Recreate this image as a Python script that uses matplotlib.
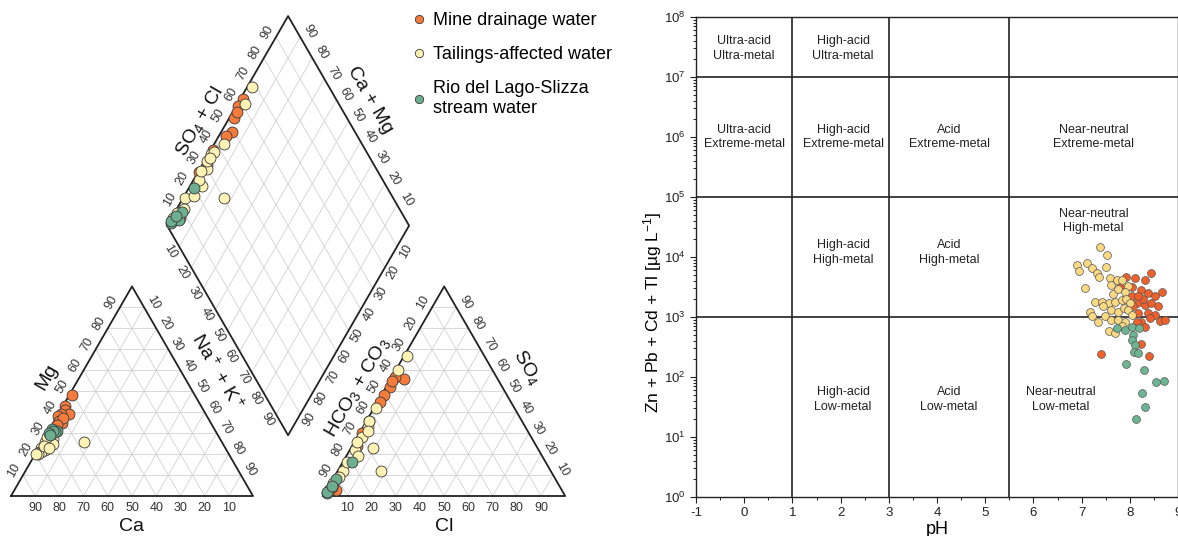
import numpy as np
import matplotlib.pyplot as plt
from matplotlib.lines import Line2D
from matplotlib.ticker import LogLocator, MultipleLocator, NullFormatter

plt.rcParams['font.family'] = ['Liberation Sans', 'DejaVu Sans']
plt.rcParams['mathtext.fontset'] = 'custom'
plt.rcParams['mathtext.rm'] = 'Liberation Sans'
plt.rcParams['mathtext.it'] = 'Liberation Sans:italic'
plt.rcParams['mathtext.default'] = 'regular'
plt.rcParams['axes.unicode_minus'] = False

# ---------------- Piper data (% meq/L) ----------------
mine_mg = [48, 43, 41, 39, 39, 38, 36, 35, 37, 34]
mine_nak = [1, 1, 2, 4.5, 1, 0.5, 2, 3.5, 3, 2]
mine_so4 = [56, 57, 52, 48, 36, 24, 55, 3, 45, 30]
mine_cl = [5.5, 1, 1.5, 1, 1, 2, 1, 4, 1, 1]

tail_mg = [29, 28, 27, 26, 25, 25, 24, 23, 22, 21, 21, 20, 20, 28, 26, 24, 23]
tail_nak = [2, 3, 4, 1, 3, 5, 2, 1, 3, 1, 2, 1, 0.5, 1, 17, 1.5, 4]
tail_so4 = [67, 60, 42, 33, 28, 22, 19, 12, 9, 6, 36, 26, 3, 23, 12, 31, 16]
tail_cl = [1, 1, 1, 2, 2, 2, 5, 2, 2, 1, 1, 1, 1, 9, 18, 3, 2]

rio_mg = [32, 31, 30.5, 31, 30, 29]
rio_nak = [1, 3.5, 3, 2, 0.5, 1.5]
rio_so4 = [1.5, 4.5, 8, 16, 2, 5]
rio_cl = [1, 1.5, 1.5, 4, 0.5, 1]

# ---------------- Ficklin data ----------------
mine_ph = [7.93, 8.11, 8.31, 8.44, 7.80, 8.04, 8.24, 8.38, 8.52, 8.67, 8.14, 8.31,
           8.45, 8.59, 8.18, 8.38, 8.52, 8.24, 8.42, 8.62, 8.72, 8.14, 8.31, 8.24,
           7.40, 8.39, 8.04, 8.28, 8.17, 8.07]
mine_metal = [4700, 4400, 4200, 5400, 3200, 2200, 2800, 2500, 2200, 2600, 1700, 1600,
              1700, 1500, 1150, 1150, 1070, 830, 950, 870, 890, 830, 690, 350,
              245, 220, 3200, 2000, 2200, 1500]

tail_ph = [7.38, 7.52, 6.90, 6.94, 7.11, 7.21, 7.32, 7.37, 7.51, 7.08, 7.59, 7.62,
           7.73, 7.83, 7.96, 7.66, 7.76, 7.90, 7.28, 7.42, 7.56, 7.69, 7.83, 7.93,
           8.00, 7.45, 7.62, 7.76, 7.87, 7.97, 8.04, 7.18, 7.21, 7.35, 7.49, 7.62,
           7.76, 7.90, 7.83, 7.56, 7.69]
tail_metal = [14800, 10700, 7400, 5900, 7800, 6500, 5400, 4600, 6800, 3100, 4400, 3400,
              4200, 4100, 3300, 2400, 2900, 2600, 1800, 1800, 1700, 1800, 1900, 2000,
              1700, 1500, 1300, 1200, 1400, 1300, 1070, 1200, 1020, 830, 1020, 890,
              890, 830, 710, 580, 540]

rio_ph = [7.73, 7.90, 8.04, 8.20, 8.07, 8.04, 8.11, 8.09, 8.16, 7.93, 8.30, 8.55,
          8.71, 8.26, 8.31, 8.13]
rio_metal = [650, 600, 690, 650, 500, 420, 340, 260, 250, 165, 130, 81,
             85, 54, 32, 20]

labels = ['Mine drainage water', 'Tailings-affected water',
          'Rio del Lago-Slizza\nstream water']
piper_colors = ['#f47b3c', '#fff2b5', '#6dae90']
fick_colors = ['#f0602a', '#fbd982', '#6db592']

# ---------------- geometry ----------------
H = np.sqrt(3) / 2
GAP = 0.29
A, B, C = np.array([0, 0]), np.array([1, 0]), np.array([0.5, H])
D, E, F = A + [1 + GAP, 0], B + [1 + GAP, 0], C + [1 + GAP, 0]
P = np.array([1 + GAP / 2, GAP * H])
Q = np.array([0.5 + GAP / 2, (1 + GAP) * H])
R = np.array([1 + GAP / 2, (2 + GAP) * H])
S = np.array([1.5 + GAP / 2, (1 + GAP) * H])
UP = np.array([0.5, H])
DOWN = np.array([0.5, -H])


def cation_xy(mg, nak):
    mg, nak = np.asarray(mg) / 100, np.asarray(nak) / 100
    return nak + mg / 2, mg * H


def anion_xy(so4, cl):
    so4, cl = np.asarray(so4) / 100, np.asarray(cl) / 100
    return 1 + GAP + cl + so4 / 2, so4 * H


def diamond_xy(nak, so4, cl):
    nak = np.asarray(nak) / 100
    sc = (np.asarray(so4) + np.asarray(cl)) / 100
    return Q[0] + sc / 2 + nak / 2, Q[1] + sc * H - nak * H


fig = plt.figure(figsize=(11.78, 5.36), dpi=100)
ax = fig.add_axes([0, 0, 1, 1])
x0, y0, s = 11, 40, 242
ax.set_xlim(-x0 / s, (1178 - x0) / s)
ax.set_ylim(-y0 / s, (536 - y0) / s)
ax.axis('off')

grid_kw = dict(color='#d2d2d2', lw=0.6, zorder=1)
fr = np.arange(1, 10) / 10


def tri_grid(o, e1, e2):
    for f in fr:
        for a, b in [(o + f * e1, o + f * e1 + (1 - f) * e2),
                     (o + f * e2, o + f * e2 + (1 - f) * e1),
                     (o + f * e1, o + f * e2)]:
            ax.plot([a[0], b[0]], [a[1], b[1]], **grid_kw)
    pts = np.array([o, o + e1, o + e2, o])
    ax.plot(pts[:, 0], pts[:, 1], color='#222222', lw=1.3, zorder=2)


def dia_grid(o, e1, e2):
    for f in fr:
        for a, b in [(o + f * e1, o + f * e1 + e2), (o + f * e2, o + f * e2 + e1)]:
            ax.plot([a[0], b[0]], [a[1], b[1]], **grid_kw)
    pts = np.array([o, o + e1, o + e1 + e2, o + e2, o])
    ax.plot(pts[:, 0], pts[:, 1], color='#222222', lw=1.3, zorder=2)


tri_grid(A, B - A, C - A)
tri_grid(D, E - D, F - D)
dia_grid(Q, UP, DOWN)

vals = range(10, 100, 10)


def edge_ticks(start, end, normal, rot, off=0.042):
    normal = np.asarray(normal, float)
    for v in vals:
        p = start + v / 100 * (end - start) + normal * off
        ax.text(p[0], p[1], str(v), rotation=rot, ha='center', va='center',
                rotation_mode='anchor', fontsize=9, color='#333333')


def edge_title(start, end, t, d, normal, rot, txt):
    p = start + t * (end - start) + np.asarray(normal) * d
    ax.text(p[0], p[1], txt, rotation=rot, ha='center', va='center',
            rotation_mode='anchor', fontsize=14, color='#111111')


nl, nr = np.array([-H, 0.5]), np.array([H, 0.5])
edge_ticks(B, A, [0, -1], 0, 0.05)
edge_ticks(A, C, nl, 60)
edge_ticks(C, B, nr, -60)
edge_ticks(D, E, [0, -1], 0, 0.05)
edge_ticks(F, D, nl, 60)
edge_ticks(E, F, nr, -60)
edge_ticks(Q, R, nl, 60)
edge_ticks(S, R, nr, -60)
edge_ticks(Q, P, [-H, -0.5], -60)
edge_ticks(S, P, [H, -0.5], 60)

edge_title(A, C, 0.5, 0.117, nl, 60, 'Mg')
edge_title(C, B, 0.48, 0.127, nr, -60, 'Na$^+$ + K$^+$')
edge_title(F, D, 0.54, 0.104, nl, 60, 'HCO$_3$ + CO$_3$')
edge_title(E, F, 0.54, 0.131, nr, -60, 'SO$_4$')
edge_title(Q, R, 0.44, 0.10, nl, 60, 'SO$_4$ + Cl')
edge_title(S, R, 0.53, 0.119, nr, -60, 'Ca + Mg')
ax.text(0.5, -0.128, 'Ca', ha='center', va='center', fontsize=14, color='#111111')
ax.text(1.5 + GAP, -0.128, 'Cl', ha='center', va='center', fontsize=14, color='#111111')

groups = [(mine_mg, mine_nak, mine_so4, mine_cl),
          (tail_mg, tail_nak, tail_so4, tail_cl),
          (rio_mg, rio_nak, rio_so4, rio_cl)]
pkw = dict(s=62, edgecolors='#3a3a3a', linewidths=0.6, zorder=3)
for (mg, nak, so4, cl), col in zip(groups, piper_colors):
    ax.scatter(*cation_xy(mg, nak), color=col, **pkw)
    ax.scatter(*anion_xy(so4, cl), color=col, **pkw)
    ax.scatter(*diamond_xy(nak, so4, cl), color=col, **pkw)

handles = [Line2D([], [], marker='o', ls='', markersize=6, markerfacecolor=c,
                  markeredgecolor='#3a3a3a', markeredgewidth=0.6) for c in piper_colors]
fig.legend(handles, labels, loc='upper left', bbox_to_anchor=(412 / 1178, 1 - 12 / 536),
           frameon=False, fontsize=13, handlelength=0.8, handletextpad=0.35,
           labelspacing=0.95, borderpad=0, borderaxespad=0)

# ---------------- Ficklin diagram ----------------
fx = fig.add_axes([696 / 1178, 39 / 536, 482 / 1178, 480 / 536])
fx.set_yscale('log')
fx.set_xlim(-1, 9)
fx.set_ylim(1, 1e8)
fx.xaxis.set_major_locator(MultipleLocator(1))
fx.xaxis.set_minor_locator(MultipleLocator(0.5))
fx.yaxis.set_major_locator(LogLocator(base=10, numticks=20))
fx.yaxis.set_minor_locator(LogLocator(base=10, subs=np.arange(2, 10), numticks=20))
fx.yaxis.set_minor_formatter(NullFormatter())
fx.tick_params(labelsize=9.5, colors='#222222', length=4, width=0.8)
fx.tick_params(which='minor', length=2, width=0.6)
for sp in fx.spines.values():
    sp.set_linewidth(1.0)
    sp.set_color('#222222')

for xv in [1, 3, 5.5]:
    fx.axvline(xv, color='#222222', lw=1.2, zorder=1)
for yv in [1e3, 1e5, 1e7]:
    fx.axhline(yv, color='#222222', lw=1.2, zorder=1)

regions = [(0, 10**7.47, 'Ultra-acid\nUltra-metal'), (2.05, 10**7.47, 'High-acid\nUltra-metal'),
           (0, 1e6, 'Ultra-acid\nExtreme-metal'), (2.05, 1e6, 'High-acid\nExtreme-metal'),
           (4.25, 1e6, 'Acid\nExtreme-metal'), (7.25, 1e6, 'Near-neutral\nExtreme-metal'),
           (2.05, 10**4.07, 'High-acid\nHigh-metal'), (4.25, 10**4.07, 'Acid\nHigh-metal'),
           (7.25, 10**4.6, 'Near-neutral\nHigh-metal'), (2.05, 10**1.62, 'High-acid\nLow-metal'),
           (4.25, 10**1.62, 'Acid\nLow-metal'), (6.57, 10**1.62, 'Near-neutral\nLow-metal')]
for xv, yv, txt in regions:
    fx.text(xv, yv, txt, ha='center', va='center', fontsize=9, color='#222222',
            linespacing=1.3)

fkw = dict(s=32, edgecolors='#555555', linewidths=0.5, zorder=3)
for xs, ys, col in [(mine_ph, mine_metal, fick_colors[0]),
                    (tail_ph, tail_metal, fick_colors[1]),
                    (rio_ph, rio_metal, fick_colors[2])]:
    fx.scatter(xs, ys, color=col, **fkw)

fx.set_xlabel('pH', fontsize=13, labelpad=1)
fx.set_ylabel('Zn + Pb + Cd + Tl [µg L$^{-1}$]', fontsize=12.5)
fx.yaxis.set_label_coords(-0.067, 0.385)

fig.savefig('out.png', dpi=100)
